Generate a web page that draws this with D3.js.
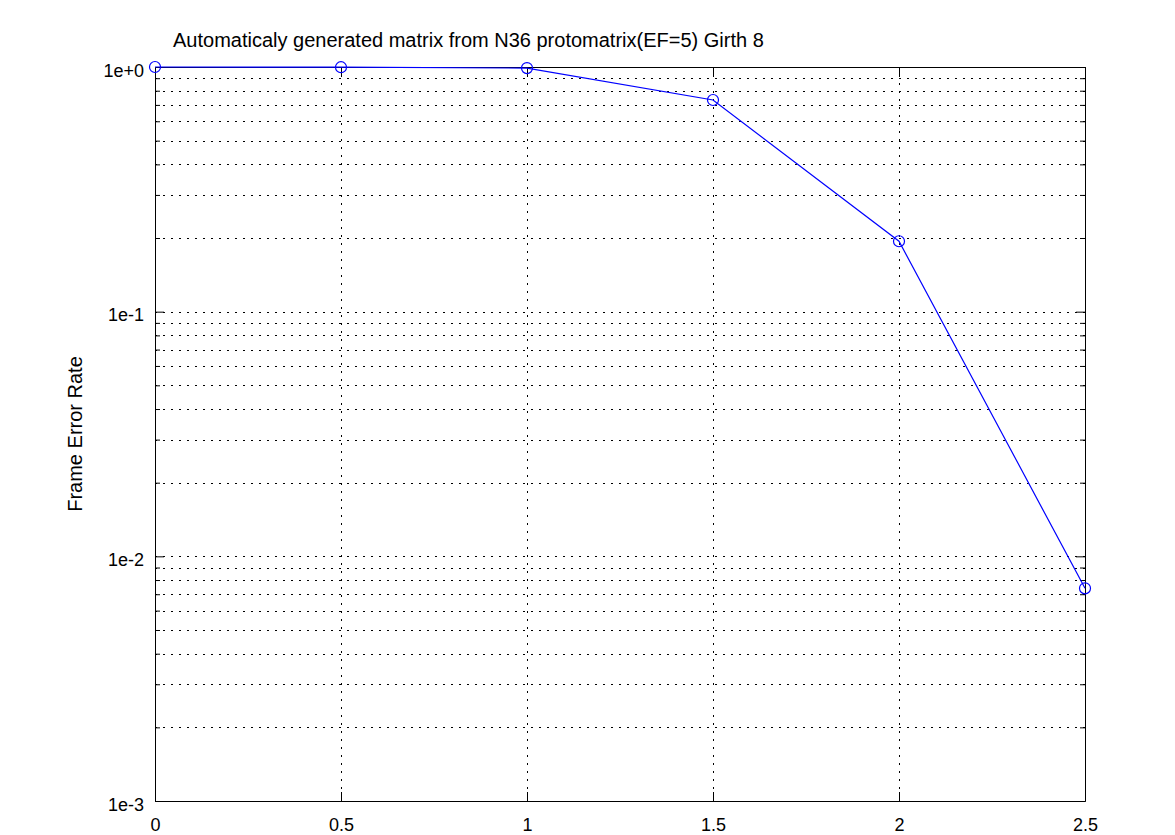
<!DOCTYPE html>
<html>
<head>
<meta charset="utf-8">
<script src="https://cdn.jsdelivr.net/npm/d3@7"></script>
<style>
  body { margin: 0; background: #fff; }
  svg { display: block; font-family: "Liberation Sans", Arial, sans-serif; }
</style>
</head>
<body>
<svg id="chart" width="1175" height="835"></svg>
<script>
// data
const snr = [0, 0.5, 1, 1.5, 2, 2.5];
const fer = [1.0, 0.998, 0.99, 0.733, 0.194, 0.0074];
const xTicks = [0, 0.5, 1, 1.5, 2, 2.5];
const yMajor = [1, 0.1, 0.01, 0.001];
const yLabels = ["1e+0", "1e-1", "1e-2", "1e-3"];
const titleText = "Automaticaly generated matrix from N36 protomatrix(EF=5) Girth 8";
const yTitle = "Frame Error Rate";

const margin = { top: 67, right: 90, bottom: 34, left: 155 };
const W = 1175, H = 835;
const width = W - margin.left - margin.right;
const height = H - margin.top - margin.bottom;

const svg = d3.select("#chart");
const g = svg.append("g").attr("transform", "translate(" + margin.left + "," + margin.top + ")");

const x = d3.scaleLinear().domain([0, 2.5]).range([0, width]);
const y = d3.scaleLog().domain([0.001, 1]).range([height, 0]);

// minor ticks 2..9 per decade
const yMinor = [];
for (let e = -3; e < 0; e++) {
  for (let m = 2; m <= 9; m++) yMinor.push(m * Math.pow(10, e));
}

// grid
const gridStyle = sel => sel.attr("stroke", "#000").attr("stroke-width", 1).attr("stroke-dasharray", "2,6");
g.selectAll(".hgrid").data(yMinor.concat([0.1, 0.01])).enter().append("line")
  .attr("x1", 0).attr("x2", width)
  .attr("y1", d => Math.round(y(d)) + 0.5).attr("y2", d => Math.round(y(d)) + 0.5)
  .call(gridStyle);
g.selectAll(".vgrid").data(xTicks.slice(1, -1)).enter().append("line")
  .attr("y1", 0).attr("y2", height)
  .attr("x1", d => Math.round(x(d)) + 0.5).attr("x2", d => Math.round(x(d)) + 0.5)
  .call(gridStyle);

// axes: ticks drawn inward on all four sides
const axLeft = d3.axisLeft(y).tickValues(yMajor).tickFormat((d, i) => yLabels[i]).tickSizeInner(-9).tickSizeOuter(0).tickPadding(11);
const axLeftMinor = d3.axisLeft(y).tickValues(yMinor).tickFormat("").tickSizeInner(-5).tickSizeOuter(0);
const axRight = d3.axisRight(y).tickValues(yMajor).tickFormat("").tickSizeInner(-9).tickSizeOuter(0);
const axRightMinor = d3.axisRight(y).tickValues(yMinor).tickFormat("").tickSizeInner(-5).tickSizeOuter(0);
const axBottom = d3.axisBottom(x).tickValues(xTicks).tickFormat(d3.format("")).tickSizeInner(-9).tickSizeOuter(0).tickPadding(17);
const axTop = d3.axisTop(x).tickValues(xTicks).tickFormat("").tickSizeInner(-9).tickSizeOuter(0);

const styleAxis = ax => {
  ax.selectAll("line, path").attr("stroke", "#000").attr("stroke-width", 1);
  ax.selectAll("text").attr("font-size", 18).attr("fill", "#000").attr("font-family", "Liberation Sans, Arial, sans-serif");
};
g.append("g").call(axLeft).call(styleAxis).selectAll("text").attr("dy", "0.5em");
g.append("g").call(axLeftMinor).call(styleAxis);
g.append("g").attr("transform", "translate(" + width + ",0)").call(axRight).call(styleAxis);
g.append("g").attr("transform", "translate(" + width + ",0)").call(axRightMinor).call(styleAxis);
g.append("g").attr("transform", "translate(0," + height + ")").call(axBottom).call(styleAxis);
g.append("g").call(axTop).call(styleAxis);

// series
const pts = snr.map((s, i) => [s, fer[i]]);
g.append("path").datum(pts)
  .attr("fill", "none").attr("stroke", "#0000ff").attr("stroke-width", 1.2)
  .attr("d", d3.line().x(d => x(d[0])).y(d => y(d[1])));
g.selectAll(".pt").data(pts).enter().append("circle")
  .attr("cx", d => x(d[0])).attr("cy", d => y(d[1])).attr("r", 5.5)
  .attr("fill", "none").attr("stroke", "#0000ff").attr("stroke-width", 1.2);

// titles
svg.append("text").attr("x", 173).attr("y", 47).attr("font-size", 20).attr("fill", "#000")
  .text(titleText);
svg.append("text").attr("transform", "translate(82," + (margin.top + height / 2) + ") rotate(-90)")
  .attr("text-anchor", "middle").attr("font-size", 20).attr("fill", "#000")
  .text(yTitle);
</script>
</body>
</html>
